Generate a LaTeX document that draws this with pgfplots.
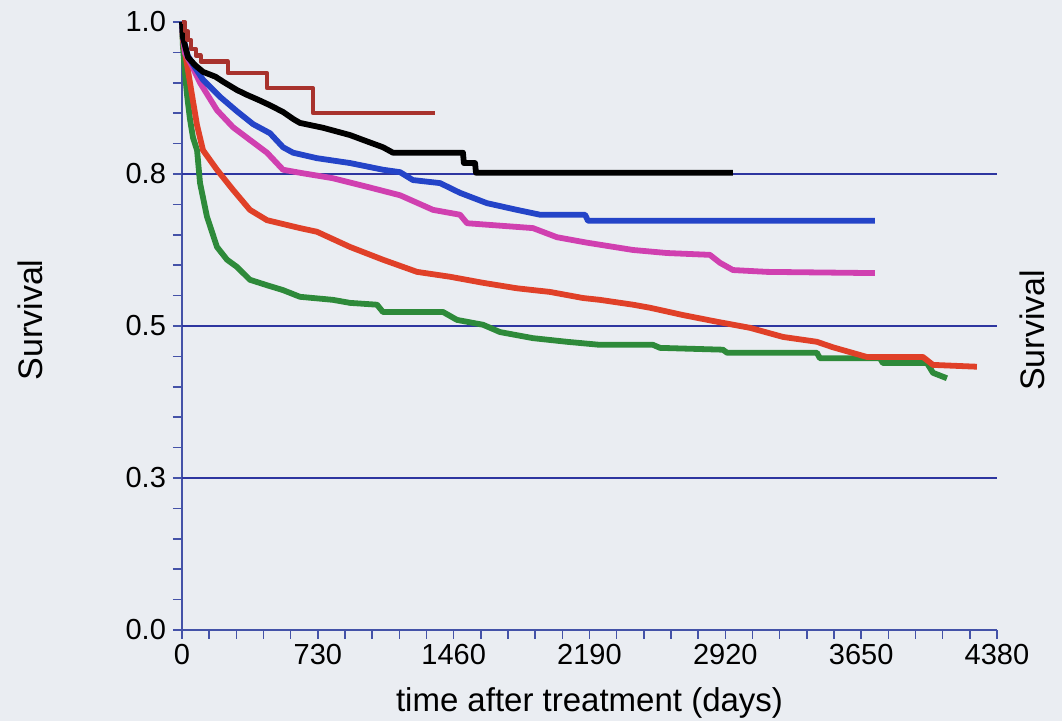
\documentclass[border=0pt]{standalone}
\usepackage{fontspec}
\setmainfont{Liberation Sans}
\usepackage{pgfplots}
\pgfplotsset{compat=1.18}
\definecolor{bgc}{HTML}{EAEDF2}
\definecolor{axc}{HTML}{4452A8}
\definecolor{gridc}{HTML}{2E36A0}
\definecolor{cdred}{HTML}{A8322D}
\definecolor{cblue}{HTML}{2444C8}
\definecolor{cmag}{HTML}{D040B0}
\definecolor{cred}{HTML}{E04028}
\definecolor{cgreen}{HTML}{2E8A3A}
\begin{document}
\begin{tikzpicture}
\path[use as bounding box, fill=bgc] (0,0) rectangle (531pt,360.5pt);
\begin{axis}[
  at={(91pt,45.5pt)}, anchor=south west,
  scale only axis, width=407.5pt, height=304pt,
  xmin=0, xmax=4380, ymin=0, ymax=1,
  axis lines*=left,
  axis line style={draw=axc, line width=0.9pt},
  xtick={0,730,1460,2190,2920,3650,4380},
  xticklabels={0,730,1460,2190,2920,3650,4380},
  minor x tick num=4,
  ytick={0,0.25,0.5,0.75,1},
  yticklabels={0.0,0.3,0.5,0.8,1.0},
  minor y tick num=4,
  tick align=outside,
  major tick length=4.5pt, minor tick length=4.5pt,
  tick style={draw=axc, line width=0.8pt},
  extra y ticks={0.25,0.5,0.75},
  extra y tick labels={},
  extra y tick style={ymajorgrids=true, major tick length=0pt},
  major grid style={draw=gridc, line width=0.9pt},
  ticklabel style={font=\fontsize{14.5}{16}\selectfont, text=black},
  xticklabel style={yshift=1pt},
  xlabel={time after treatment (days)},
  xlabel style={font=\fontsize{16.5}{19}\selectfont, at={(axis description cs:0.5,-0.12)}, anchor=center},
  ylabel={Survival},
  ylabel style={font=\fontsize{17}{19}\selectfont, at={(axis description cs:-0.1865,0.51)}, anchor=center},
  clip=false,
  every axis plot/.append style={line join=round},
]
% green
\addplot[cgreen, line width=2.9pt] coordinates {
(0,1)(5,0.96)(15,0.92)(27,0.88)(43,0.84)(59,0.81)(81,0.789)(97,0.735)(134,0.680)(188,0.630)(242,0.609)(296,0.597)(365,0.576)(457,0.567)(543,0.559)(634,0.548)(811,0.543)(903,0.538)(1048,0.535)(1080,0.523)(1403,0.523)(1478,0.510)(1618,0.502)(1709,0.490)(1886,0.480)(2069,0.474)(2246,0.469)(2531,0.469)(2569,0.464)(2907,0.461)(2929,0.456)(3412,0.456)(3428,0.447)(3751,0.447)(3767,0.439)(4004,0.439)(4036,0.423)(4111,0.414)
};
% red
\addplot[cred, line width=2.9pt] coordinates {
(0,1)(5,0.97)(27,0.93)(43,0.90)(59,0.87)(81,0.83)(113,0.789)(188,0.757)(274,0.724)(365,0.691)(457,0.674)(634,0.661)(725,0.655)(903,0.630)(1080,0.609)(1263,0.589)(1440,0.581)(1618,0.571)(1800,0.562)(1978,0.556)(2155,0.546)(2246,0.543)(2424,0.535)(2515,0.530)(2692,0.518)(2875,0.507)(3052,0.497)(3230,0.482)(3412,0.474)(3498,0.465)(3681,0.449)(3982,0.449)(4036,0.436)(4272,0.433)
};
% magenta
\addplot[cmag, line width=2.9pt] coordinates {
(0,1)(8,0.97)(16,0.949)(50,0.93)(97,0.90)(188,0.855)(274,0.827)(365,0.806)(457,0.785)(543,0.757)(634,0.752)(811,0.743)(994,0.729)(1172,0.715)(1349,0.691)(1494,0.683)(1532,0.669)(1886,0.661)(2015,0.646)(2177,0.637)(2424,0.625)(2606,0.620)(2837,0.617)(2891,0.604)(2961,0.592)(3144,0.589)(3724,0.587)
};
% blue
\addplot[cblue, line width=2.9pt] coordinates {
(0,1)(5,0.975)(30,0.945)(70,0.925)(113,0.905)(204,0.877)(296,0.853)(382,0.832)(473,0.817)(543,0.794)(597,0.785)(725,0.776)(903,0.768)(1080,0.757)(1172,0.753)(1241,0.740)(1387,0.735)(1494,0.719)(1639,0.702)(1800,0.691)(1924,0.683)(2166,0.683)(2182,0.673)(3724,0.673)
};
% black
\addplot[black, line width=2.9pt] coordinates {
(0,1)(5,0.975)(32,0.942)(70,0.929)(113,0.918)(180,0.910)(225,0.901)(296,0.888)(350,0.880)(410,0.872)(473,0.863)(543,0.852)(600,0.840)(634,0.834)(758,0.826)(903,0.814)(973,0.806)(1080,0.794)(1134,0.785)(1510,0.785)(1515,0.768)(1575,0.768)(1580,0.752)(2961,0.752)
};
% dark red
\addplot[cdred, line width=2.1pt, const plot] coordinates {
(0,1.0)(15,0.985)(30,0.97)(50,0.955)(75,0.945)(100,0.935)(247,0.916)(457,0.891)(704,0.850)(1360,0.850)
};
\node[rotate=90, font=\fontsize{17}{19}\selectfont] at (axis description cs:1.043,0.493) {Survival};
\end{axis}
\end{tikzpicture}
\end{document}
